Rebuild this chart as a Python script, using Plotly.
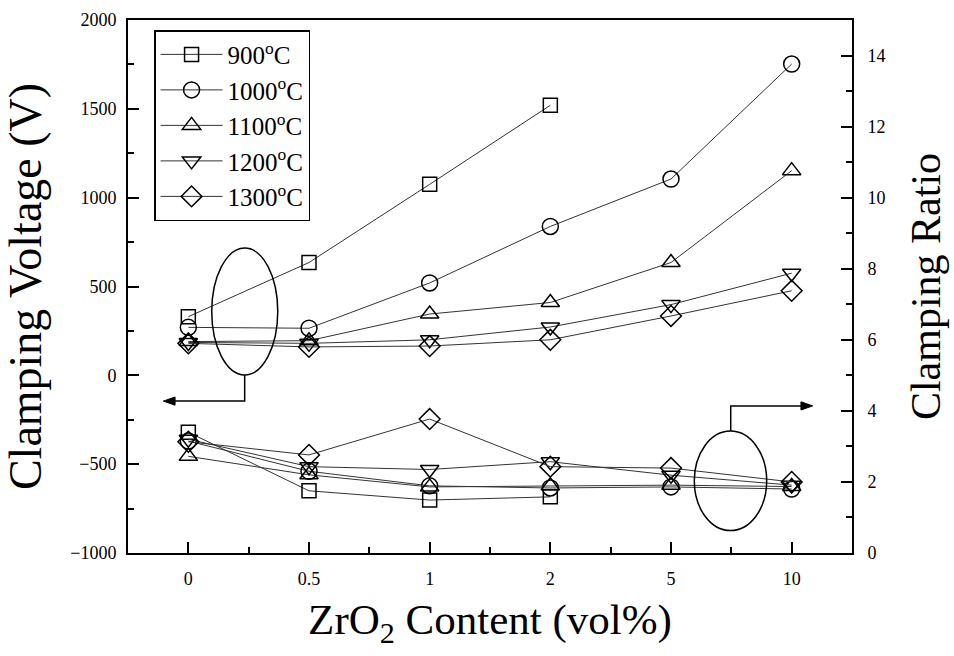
import plotly.graph_objects as go

# ---------------- data ----------------
categories = ["0", "0.5", "1", "2", "5", "10"]
series_names = ["900<sup>o</sup>C", "1000<sup>o</sup>C", "1100<sup>o</sup>C",
                "1200<sup>o</sup>C", "1300<sup>o</sup>C"]

# Clamping voltage (V), left axis
volt_900 = [330, 635, 1075, 1520, None, None]
volt_1000 = [270, 265, 520, 838, 1105, 1752]
volt_1100 = [190, 195, 345, 410, 635, 1152]
volt_1200 = [185, 180, 200, 272, 398, 575]
volt_1300 = [180, 160, 165, 200, 334, 476]

# Clamping ratio, right axis
ratio_900 = [3.40, 1.75, 1.49, 1.58, None, None]
ratio_1000 = [3.15, 2.30, 1.89, 1.83, 1.86, 1.80]
ratio_1100 = [2.72, 2.20, 1.86, 1.89, 1.91, 1.87]
ratio_1200 = [3.20, 2.43, 2.35, 2.57, 2.19, 1.91]
ratio_1300 = [3.13, 2.76, 3.77, 2.43, 2.39, 2.00]

symbols = ["square-open", "circle-open", "triangle-up-open", "triangle-down-open", "diamond-open"]
sizes = [14, 16, 16, 16, 16]

volts = [volt_900, volt_1000, volt_1100, volt_1200, volt_1300]
ratios = [ratio_900, ratio_1000, ratio_1100, ratio_1200, ratio_1300]

xpos = list(range(len(categories)))
FONT = "Liberation Serif"

fig = go.Figure()
for name, sym, sz, v, r in zip(series_names, symbols, sizes, volts, ratios):
    common = dict(
        mode="lines+markers",
        legendgroup=name,
        marker=dict(symbol=sym, size=sz, color="black", line=dict(width=1.5, color="black")),
        line=dict(color="#333333", width=1),
        connectgaps=False,
    )
    fig.add_trace(go.Scatter(x=xpos, y=v, name=name, yaxis="y", **common))
    fig.add_trace(go.Scatter(x=xpos, y=r, name=name, showlegend=False, yaxis="y2", **common))

axis_common = dict(
    showgrid=False, zeroline=False, showline=True, linecolor="black", linewidth=2,
    ticks="inside", ticklen=11, tickwidth=1.5, tickcolor="black",
    tickfont=dict(family=FONT, size=18, color="black"),
    automargin=False,
)

fig.update_layout(
    width=954, height=656,
    margin=dict(l=128, r=102, t=20, b=103),
    paper_bgcolor="white", plot_bgcolor="white",
    font=dict(family=FONT, color="black"),
    xaxis=dict(
        range=[-0.5, 5.5], tickmode="array", tickvals=xpos, ticktext=categories,
        mirror=True,
        minor=dict(tickmode="array", tickvals=[0.5, 1.5, 2.5, 3.5, 4.5],
                   ticks="inside", ticklen=6, tickwidth=1.5, tickcolor="black"),
        ticklabelstandoff=8,
        title=dict(text="ZrO<sub>2</sub> Content (vol%)",
                   font=dict(family=FONT, size=43, color="black"), standoff=16),
        **axis_common,
    ),
    yaxis=dict(
        range=[-1000, 2000], tick0=0, dtick=500,
        minor=dict(dtick=250, ticks="inside", ticklen=6, tickwidth=1.5, tickcolor="black"),
        ticklabelstandoff=6,
        title=dict(text="Clamping Voltage (V)",
                   font=dict(family=FONT, size=46, color="black"), standoff=14),
        **axis_common,
    ),
    yaxis2=dict(
        range=[0, 15], tick0=0, dtick=2, overlaying="y", side="right",
        minor=dict(dtick=1, ticks="inside", ticklen=6, tickwidth=1.5, tickcolor="black"),
        ticklabelstandoff=10,
        title=dict(text="Clamping Ratio",
                   font=dict(family=FONT, size=42, color="black"), standoff=26),
        **axis_common,
    ),
    legend=dict(
        x=0.036, y=0.981, xanchor="left", yanchor="top",
        bgcolor="white", bordercolor="black", borderwidth=1.5,
        font=dict(family=FONT, size=25, color="black"),
        traceorder="grouped", tracegroupgap=0, itemwidth=62,
    ),
    showlegend=True,
)

LINE = dict(color="black", width=1.5)
# left annotation: ellipse around upper curves, arrow pointing to left axis
fig.add_shape(type="circle", xref="x", yref="y", x0=0.194, x1=0.741, y0=2, y1=716, line=LINE)
fig.add_shape(type="path", xref="x", yref="y",
              path="M 0.467,2 L 0.467,-145 L -0.12,-145", line=LINE)
fig.add_shape(type="path", xref="x", yref="y",
              path="M -0.207,-145 L -0.11,-122 L -0.11,-168 Z",
              line=dict(color="black", width=1), fillcolor="black")

# right annotation: ellipse around lower curves, arrow pointing to right axis
fig.add_shape(type="circle", xref="x", yref="y2", x0=4.193, x1=4.793, y0=0.63, y1=3.43, line=LINE)
fig.add_shape(type="path", xref="x", yref="y2",
              path="M 4.495,3.43 L 4.495,4.14 L 5.09,4.14", line=LINE)
fig.add_shape(type="path", xref="x", yref="y2",
              path="M 5.174,4.14 L 5.077,4.255 L 5.077,4.025 Z",
              line=dict(color="black", width=1), fillcolor="black")

fig.write_html("out.html")
